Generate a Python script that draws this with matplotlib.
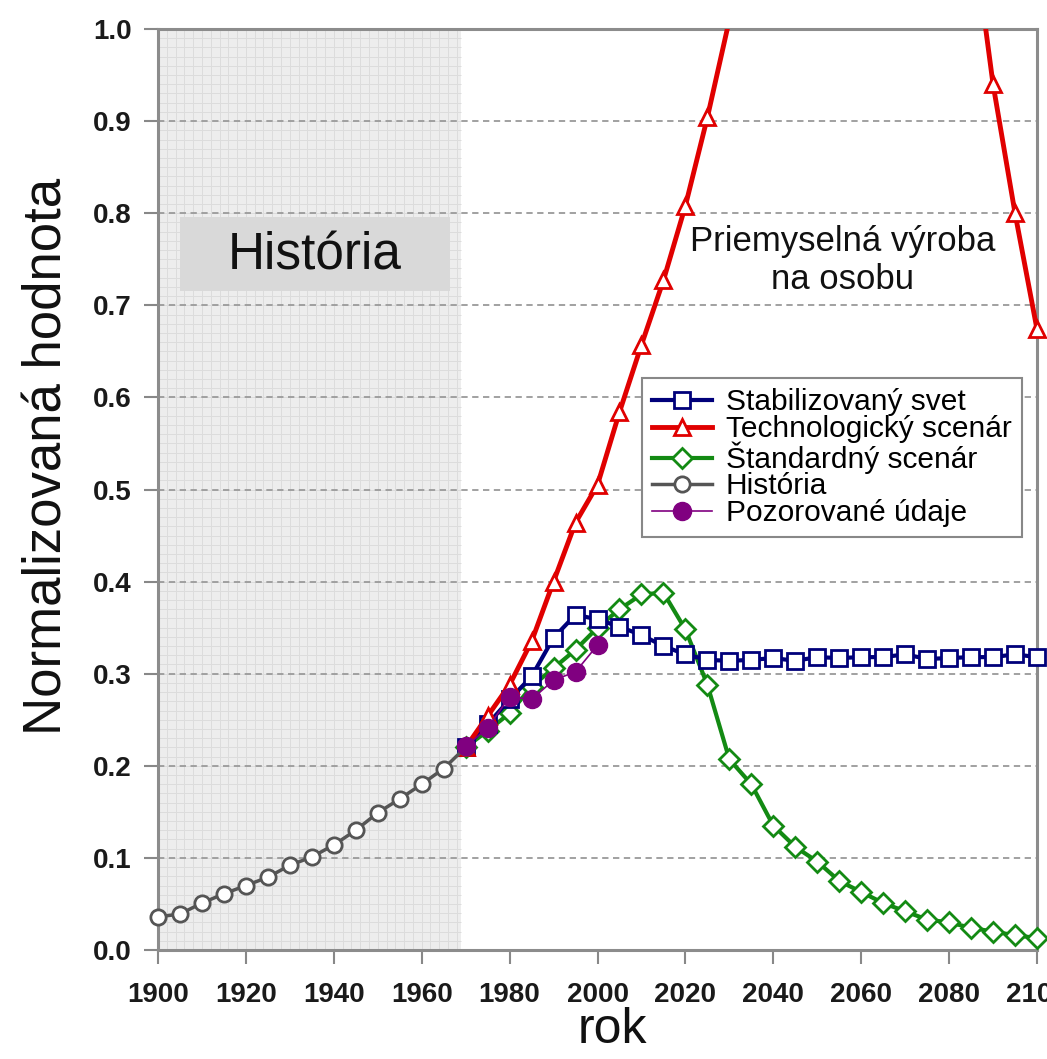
import numpy as np
import matplotlib
matplotlib.use("Agg")
import matplotlib.pyplot as plt
from matplotlib.patches import Rectangle
from matplotlib.transforms import Bbox, TransformedBbox

plt.rcParams['font.family'] = ['Liberation Sans', 'DejaVu Sans']

# --- data ---
hist_years = np.arange(1900, 1971, 5)
hist_vals = [0.036, 0.039, 0.051, 0.061, 0.070, 0.079, 0.092, 0.101,
             0.114, 0.130, 0.149, 0.164, 0.180, 0.197, 0.220]

obs_years = np.arange(1970, 2001, 5)
obs_vals = [0.221, 0.241, 0.275, 0.272, 0.293, 0.302, 0.331]

scen_years = np.arange(1970, 2101, 5)
stab_vals = [0.220, 0.245, 0.272, 0.297, 0.339, 0.364, 0.359, 0.351, 0.342,
             0.330, 0.321, 0.315, 0.314, 0.315, 0.317, 0.314, 0.318, 0.317,
             0.318, 0.318, 0.321, 0.316, 0.317, 0.318, 0.318, 0.321, 0.318]
tech_vals = [0.220, 0.254, 0.288, 0.335, 0.400, 0.464, 0.505, 0.584, 0.657,
             0.727, 0.808, 0.904, 1.01, np.nan, np.nan, np.nan, np.nan,
             np.nan, np.nan, np.nan, np.nan, np.nan, np.nan, 1.12, 0.940,
             0.800, 0.674]
std_vals = [0.220, 0.238, 0.257, 0.286, 0.306, 0.326, 0.350, 0.370, 0.386,
            0.388, 0.348, 0.288, 0.207, 0.180, 0.135, 0.112, 0.096, 0.075,
            0.063, 0.051, 0.042, 0.033, 0.030, 0.024, 0.020, 0.016, 0.013]

x_ticks = np.arange(1900, 2101, 20)
y_ticks = np.arange(0, 1.01, 0.1)

fig = plt.figure(figsize=(10.47, 10.59), dpi=100)
ax = fig.add_axes([158 / 1047, 1 - 950 / 1059, 879 / 1047, 921 / 1059])
ax.set_xlim(1900, 2100)
ax.set_ylim(0, 1.0)

# shaded history period with fine graph-paper grid
ax.axvspan(1900, 1969, color='#ededed', zorder=0.1, lw=0)
ax.vlines(np.arange(1902, 1969, 2), 0, 1, color='#dcdcdc', lw=0.7, zorder=0.2)
ax.hlines(np.arange(0.01, 1.0, 0.01), 1900, 1969, color='#dcdcdc', lw=0.7, zorder=0.2)

ax.set_axisbelow(True)
ax.yaxis.grid(True, linestyle=(0, (3.5, 2.5)), color='#9a9a9a', lw=1.3)

# clip box: wide in x so edge markers show, capped at 1.0 in y
clip = TransformedBbox(Bbox([[1890, -0.05], [2110, 1.0]]), ax.transData)

l_std, = ax.plot(scen_years, std_vals, color='#138a13', lw=3, marker='D', ms=10,
                 mfc='white', mec='#138a13', mew=2, zorder=3)
l_stab, = ax.plot(scen_years, stab_vals, color='#00007a', lw=3, marker='s', ms=12,
                  mfc='white', mec='#00007a', mew=2, zorder=4)
tech = np.array(tech_vals)
l_tech, = ax.plot(scen_years, tech, color='#e00000', lw=3.5, marker='^', ms=12,
                  mfc='white', mec='#e00000', mew=2, zorder=5,
                  markevery=list(tech <= 1.0))
l_hist, = ax.plot(hist_years, hist_vals, color='#555555', lw=2.5, marker='o', ms=11,
                  mfc='white', mec='#555555', mew=2, zorder=6)
l_obs, = ax.plot(obs_years, obs_vals, color='#800080', lw=1.2, marker='o', ms=13,
                 mfc='#800080', mec='#800080', zorder=7)
for ln in (l_std, l_stab, l_tech, l_hist, l_obs):
    ln.set_clip_box(clip)

ax.add_patch(Rectangle((1905, 0.715), 61.4, 0.081, facecolor='#d9d9d9',
                       edgecolor='none', zorder=1))
ax.text(1935.7, 0.754, 'História', fontsize=37, ha='center', va='center',
        color='#111111', zorder=2)
ax.text(2055.7, 0.749, 'Priemyselná výroba\nna osobu', fontsize=25,
        ha='center', va='center', linespacing=1.2, color='#111111', zorder=2)

ax.set_xticks(x_ticks, [str(v) for v in x_ticks], fontweight='bold')
ax.set_yticks(y_ticks, ['%.1f' % v for v in y_ticks], fontweight='bold')
ax.tick_params(axis='both', direction='out', length=10, width=1.5,
               color='#888888', labelsize=20, labelcolor='#1a1a1a')
ax.tick_params(axis='x', pad=13)
ax.tick_params(axis='y', pad=9)
for sp in ax.spines.values():
    sp.set_color('#8c8c8c')
    sp.set_linewidth(2.2)

fig.text(48 / 1047, 1 - 456 / 1059, 'Normalizovaná hodnota', rotation=90,
         fontsize=38, ha='center', va='center', color='#111111')
fig.text(612 / 1047, 1 - 1030 / 1059, 'rok', fontsize=36, ha='center',
         va='center', color='#111111')

leg = ax.legend([l_stab, l_tech, l_std, l_hist, l_obs],
                ['Stabilizovaný svet', 'Technologický scenár', 'Štandardný scenár',
                 'História', 'Pozorované údaje'],
                loc='upper left', bbox_to_anchor=(642 / 1047, 1 - 378 / 1059),
                bbox_transform=fig.transFigure, fontsize=21.5, labelspacing=-0.05,
                handlelength=2.0, handletextpad=0.45, borderpad=0.35,
                borderaxespad=0, fancybox=False, framealpha=1,
                edgecolor='#888888')
leg.get_frame().set_linewidth(1.5)
leg.set_zorder(10)

fig.savefig('out.png', dpi=100)
